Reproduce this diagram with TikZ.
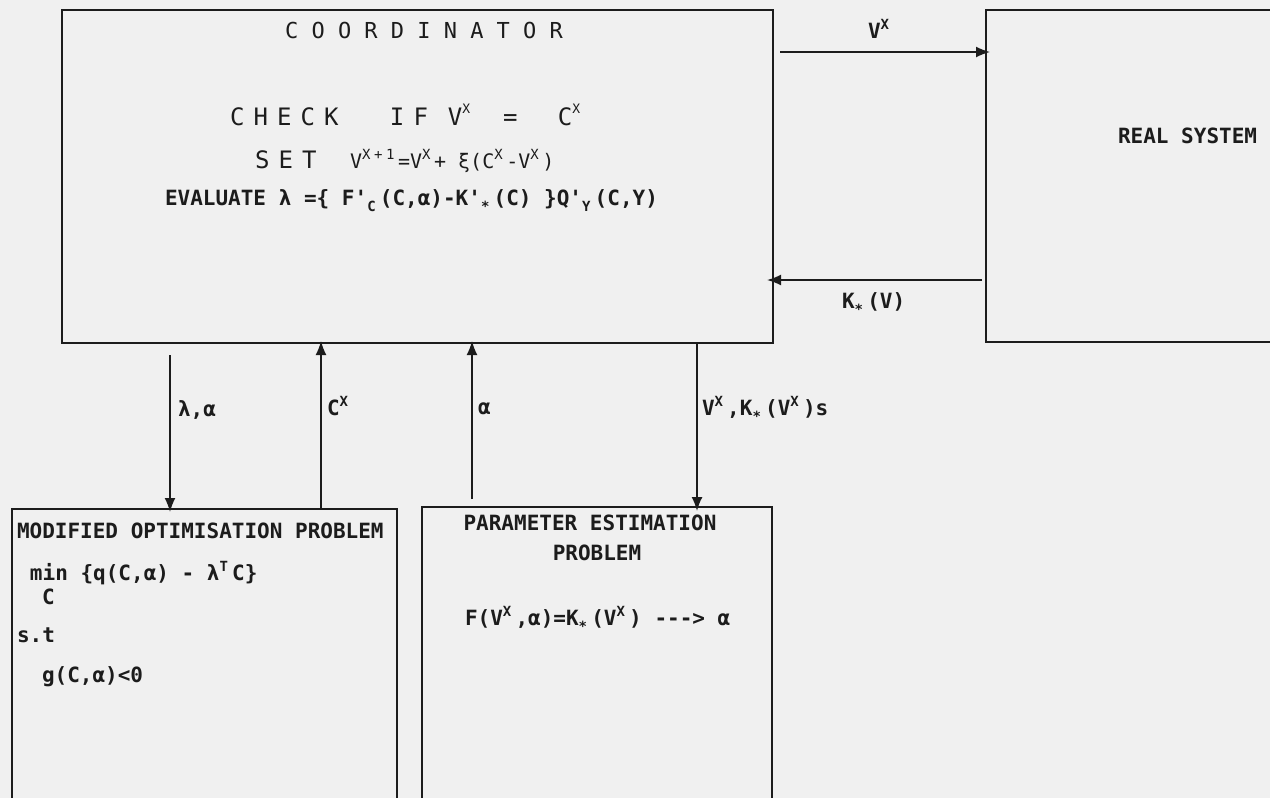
\documentclass[tikz,border=0pt]{standalone}
\usepackage{fontspec}
\usetikzlibrary{arrows.meta,calc}
\newfontfamily\dotfont{DejaVu Sans Mono}
\newfontfamily\thinfont[LetterSpace=38]{DejaVu Sans Mono}
\newfontfamily\coordfont[LetterSpace=60]{DejaVu Sans Mono}
\definecolor{ink}{RGB}{28,28,28}
\definecolor{paper}{RGB}{240,240,240}
% superscript / subscript occupying one character cell
\newcommand\hi[1]{\makebox[0.6em][l]{\raisebox{0.42em}{\fontsize{14pt}{14pt}\selectfont #1}}}
\newcommand\lo[1]{\makebox[0.6em][l]{\raisebox{-0.32em}{\fontsize{14pt}{14pt}\selectfont #1}}}
\newcommand\thhi[1]{\raisebox{0.5em}{\fontsize{13pt}{13pt}\selectfont #1}}
\newcommand\dsh{\hbox{-}}
\tikzset{
  frame/.style={draw=ink, line width=2pt},
  boxn/.style={inner sep=0pt, outer sep=0pt, anchor=north west},
  arr/.style={draw=ink, line width=1.6pt, -{Latex[length=14pt,width=11pt]}},
  bt/.style={inner sep=0pt, outer sep=0pt, anchor=base west, text=ink,
    font={\dotfont\bfseries\fontsize{21pt}{24pt}\selectfont}},
  th/.style={inner sep=0pt, outer sep=0pt, anchor=base west, text=ink,
    font={\thinfont\fontsize{24pt}{26pt}\selectfont}},
}
\begin{document}
\begin{tikzpicture}[x=1pt,y=-1pt]
\fill[paper] (0,0) rectangle (1270,798);
\useasboundingbox (0,0) rectangle (1270,798);

% boxes
\node[boxn, frame, minimum width=711pt, minimum height=333pt] (coord) at (62,10) {};
\node[boxn, minimum width=300pt, minimum height=332pt] (real) at (986,10) {};
\draw[frame] (real.north east) -- (real.north west) -- (real.south west) -- (real.south east);
\node[boxn, minimum width=385pt, minimum height=300pt] (optim) at (12,509) {};
\draw[frame] (optim.south west) -- (optim.north west) -- (optim.north east) -- (optim.south east);
\node[boxn, minimum width=350pt, minimum height=300pt] (param) at (422,507) {};
\draw[frame] (param.south west) -- (param.north west) -- (param.north east) -- (param.south east);

% connectors
\draw[arr] ($(coord.north east)+(7,42)$) -- ($(real.north west)+(4,42)$);
\draw[arr] ($(real.south west)+(-4,-62)$) -- ($(coord.south east)+(-6,-63)$);
\draw[arr] ($(coord.south west)+(108,12)$) -- ($(optim.north west)+(158,3)$);
\draw[arr] ($(optim.north west)+(309,0)$) -- ($(coord.south west)+(259,-2)$);
\draw[arr] ($(param.north west)+(50,-8)$) -- ($(coord.south west)+(410,-2)$);
\draw[arr] ($(coord.south west)+(635,0)$) -- ($(param.north west)+(275,4)$);

% coordinator text
\node[inner sep=0pt, anchor=base, text=ink, font={\coordfont\fontsize{22pt}{24pt}\selectfont}] (ctitle) at (424,38) {COORDINATOR};
\node[th] (check) at (230,125) {\makebox[160pt][l]{CHECK}\makebox[58pt][l]{IF}\makebox[55pt][l]{V\thhi{X}}\makebox[55pt][l]{=}C\thhi{X}};
\node[th] (set) at (255,168) {\makebox[95pt][l]{SET}{\dotfont\fontsize{20pt}{22pt}\selectfont V\hi{X}\hi{+}\hi{1}=V\hi{X}+ ξ(C\hi{X}-V\hi{X})}};
\node[bt] (eval) at (165,205) {EVALUATE λ =\{ F'\lo{C}(C,α)-K'\lo{*}(C) \}Q'\lo{Y}(C,Y)};

% real system
\node[bt] (rtxt) at (1118,143) {REAL SYSTEM};

% connector labels
\node[bt] (lvx) at (868,38) {V\hi{X}};
\node[bt] (lkx) at (842,308) {K\lo{*}(V)};
\node[bt] (llam) at (178,416) {λ,α};
\node[bt] (lcx) at (327,415) {C\hi{X}};
\node[bt] (lal) at (478,414) {α};
\node[bt] (lvk) at (702,415) {V\hi{X},K\lo{*}(V\hi{X})s};

% optimisation box text
\node[bt] (mtitle) at (17,538) {MODIFIED OPTIMISATION PROBLEM};
\node[bt] (mmin) at (30,580) {min \{q(C,α) - λ\hi{T}C\}};
\node[bt] (mc) at (42,604) {C};
\node[bt] (mst) at (17,642) {s.t};
\node[bt] (mg) at (42,682) {g(C,α)<0};

% parameter estimation text
\node[inner sep=0pt, anchor=base, text=ink, font={\dotfont\bfseries\fontsize{21pt}{24pt}\selectfont}] (ptitle) at (590,530) {PARAMETER ESTIMATION};
\node[inner sep=0pt, anchor=base, text=ink, font={\dotfont\bfseries\fontsize{21pt}{24pt}\selectfont}] (ptitle2) at (597,560) {PROBLEM};
\node[bt] (pf) at (465,625) {F(V\hi{X},α)=K\lo{*}(V\hi{X}) \dsh\dsh\dsh> α};
\end{tikzpicture}
\end{document}
